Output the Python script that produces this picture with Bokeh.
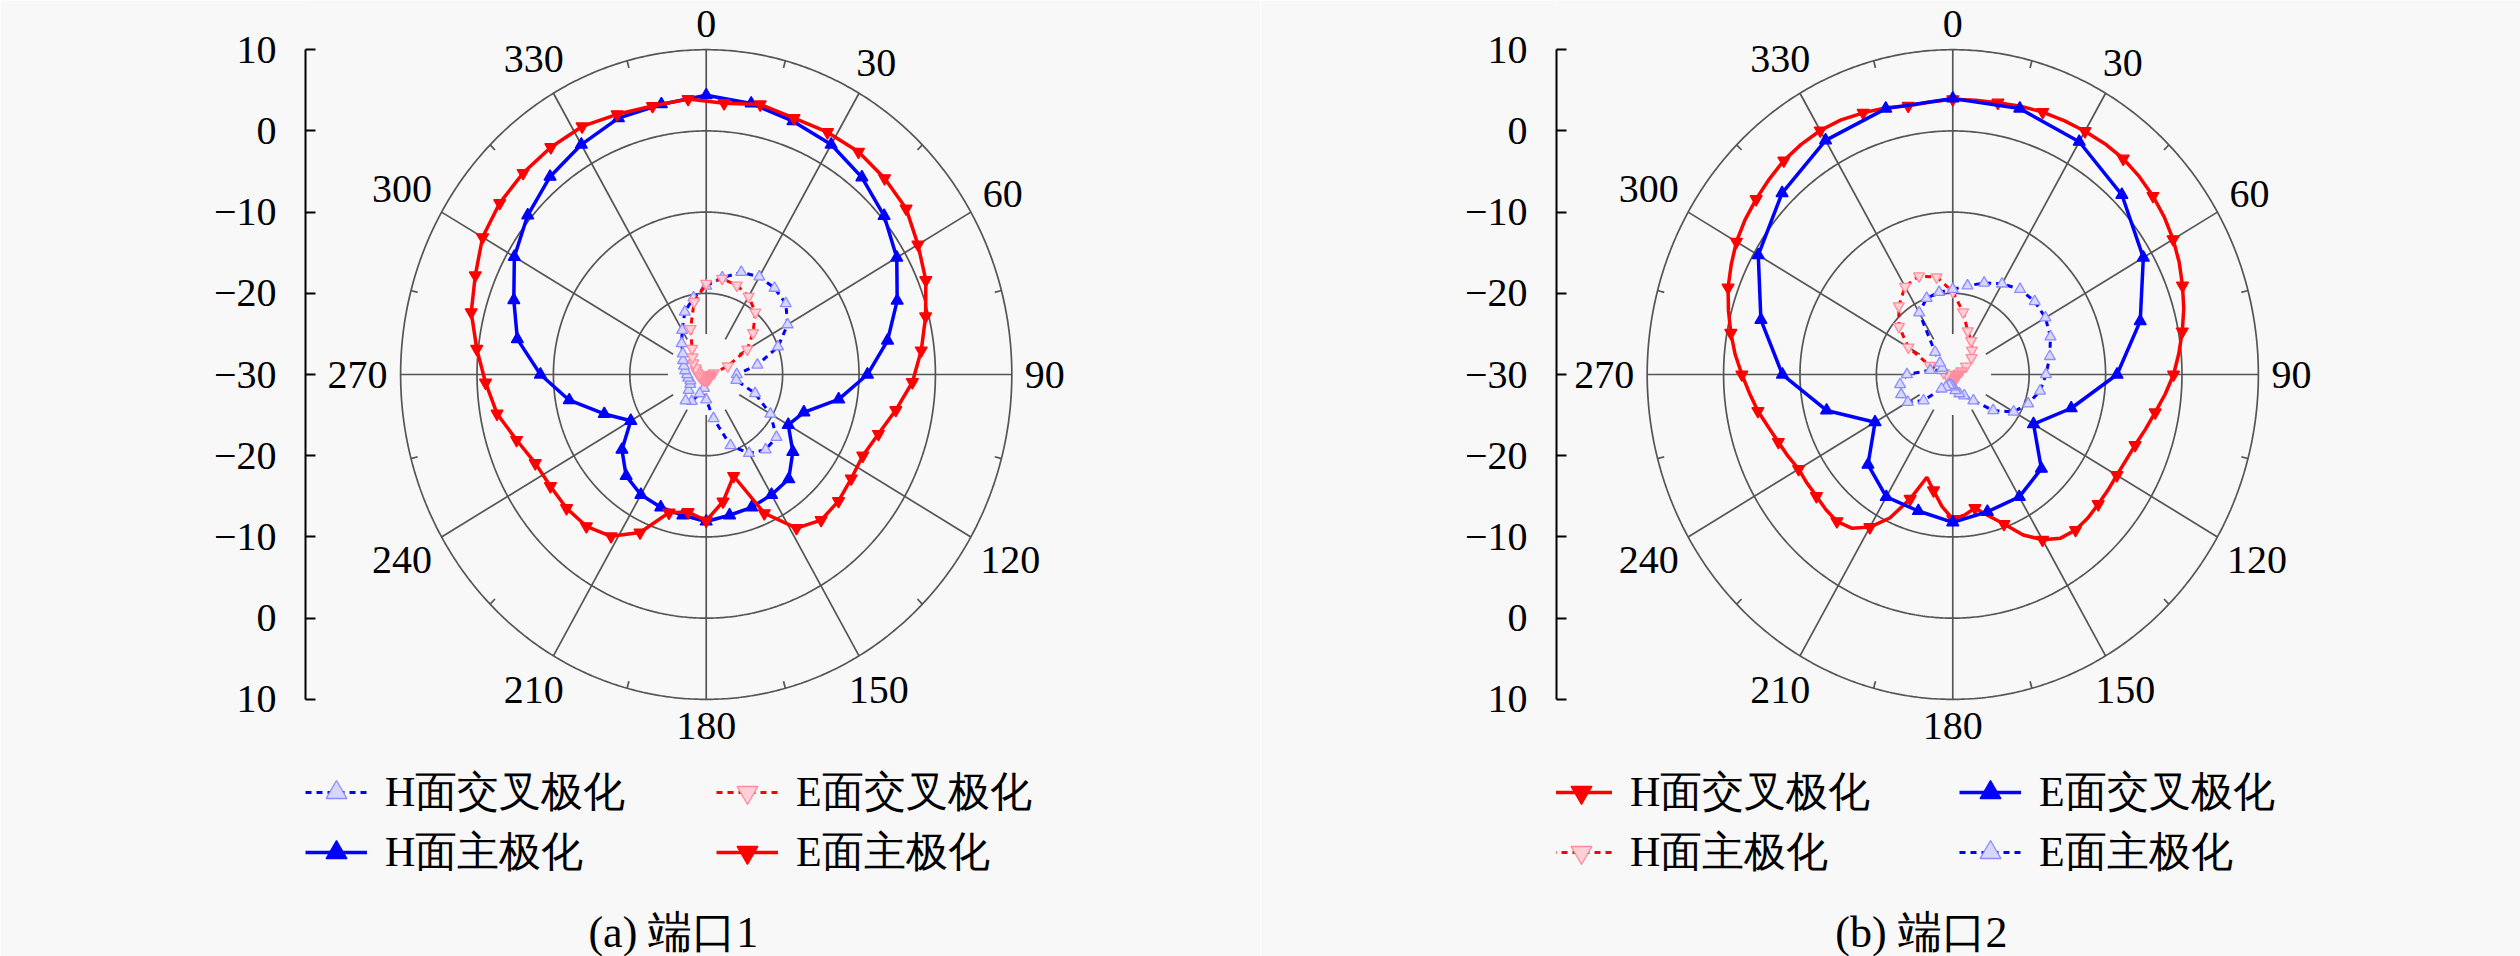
import numpy as np
from bokeh.plotting import figure
from bokeh.layouts import row
from bokeh.models import FixedTicker, Range1d, Legend, LegendItem, Label
from bokeh.embed import file_html
from bokeh.resources import INLINE
from bokeh.core.properties import value

# ---------------- data (dB vs angle in degrees, clockwise from top) ----------------
ANGLE_LABELS = ["0", "30", "60", "90", "120", "150", "180", "210", "240", "270", "300", "330"]
ANGLE_TICKS = [0, 30, 60, 90, 120, 150, 180, 210, 240, 270, 300, 330]
Y_TICKS = [-40, -30, -20, -10, 0, 10, 20, 30, 40]
Y_TICK_LABELS = ["10", "0", "\u221210", "\u221220", "\u221230", "\u221220", "\u221210", "0", "10"]
RING_DB = [-20, -10, 0, 10]

# Panel (a) 端口1
A_HX_THETA = list(range(0, 360, 10))      # H面交叉极化
A_HX_DB = [-19.1, -17.9, -16.6, -16.1, -16.1, -16.4, -17.7, -20.0, -23.2, -26.0,
           -26.0, -23.2, -20.3, -18.0, -17.9, -18.8, -20.7, -24.5, -26.9, -28.3,
           -27.5, -26.2, -25.8, -27.0, -27.6, -27.8, -27.6, -27.5, -27.2, -26.9,
           -26.5, -26.0, -25.0, -23.7, -21.8, -20.4]
A_EX_THETA = list(range(0, 360, 10))      # E面交叉极化
A_EX_DB = [-18.8, -18.0, -18.3, -18.9, -20.0, -22.0, -23.8, -27.0, -29.0, -29.4,
           -29.5, -29.5, -29.5, -29.4, -29.4, -29.4, -29.3, -29.3, -29.3, -29.3,
           -29.3, -29.3, -29.3, -29.3, -29.2, -29.2, -29.1, -29.0, -28.8, -28.6,
           -28.4, -27.8, -27.2, -26.3, -24.0, -20.9]
A_HM_THETA = list(range(0, 360, 10))      # H面主极化
A_HM_DB = [4.4, 3.9, 3.2, 2.7, 1.7, 0.4, -1.2, -3.4, -5.9, -8.9,
           -12.4, -16.4, -17.6, -15.2, -13.2, -12.9, -12.6, -12.4, -11.9, -12.4,
           -12.6, -12.9, -13.7, -15.6, -18.6, -15.8, -11.8, -8.3, -4.9, -3.2,
           -1.0, 0.5, 1.8, 2.7, 3.6, 3.8]
A_EM_THETA = list(range(4, 360, 8))       # E面主极化
A_EM_DB = [3.5, 4.0, 3.6, 3.8, 3.9, 3.6, 3.2, 2.0, 1.0, -0.4,
           -1.7, -3.0, -4.8, -6.3, -7.2, -7.1, -6.7, -6.6, -7.7, -11.3,
           -17.0, -14.2, -12.0, -12.9, -12.3, -8.7, -6.5, -5.6, -5.4, -5.4,
           -5.1, -3.9, -2.2, -1.1, 0.2, 1.7, 2.6, 3.8, 4.3, 4.5,
           4.6, 4.6, 4.1, 3.8, 4.0]

# Panel (b) 端口2
B_HX_THETA = list(range(0, 360, 5))       # H面交叉极化 (red solid)
B_HX_DB = [3.9, 3.9, 4.0, 4.2, 4.4, 4.5, 4.6, 4.7, 4.7, 4.5,
           4.2, 3.8, 3.3, 2.7, 2.0, 1.3, 0.5, -0.3, -1.1, -2.1,
           -3.1, -3.9, -4.6, -5.0, -5.2, -5.2, -5.15, -5.0, -5.0, -5.4,
           -6.5, -8.2, -10.4, -12.0, -13.3, -12.6, -12.2, -13.7, -15.5, -16.9,
           -13.7, -10.5, -8.3, -6.9, -6.4, -6.5, -6.7, -6.7, -6.7, -6.2,
           -5.7, -5.0, -4.1, -3.3, -2.4, -1.4, -0.5, 0.4, 1.3, 2.0,
           2.7, 3.2, 3.6, 4.0, 4.4, 4.6, 4.7, 4.6, 4.3, 4.0,
           3.6, 3.7]
B_EX_THETA = list(range(0, 360, 15))      # E面交叉极化 (blue solid)
B_EX_DB = [4.0, 3.9, 3.1, 1.3, -1.2, -4.6, -8.5, -13.95, -17.8, -13.6,
           -12.6, -12.5, -11.8, -12.6, -12.6, -14.3, -18.25, -12.9, -7.7, -4.0,
           -0.6, 1.6, 3.3, 3.9]
B_HM_THETA = list(range(0, 360, 10))      # H面主极化 (red dotted)
B_HM_DB = [-19.8, -22.2, -24.3, -25.2, -26.1, -26.8, -28.0, -28.8, -29.2, -29.4,
           -29.4, -29.4, -29.4, -29.4, -29.4, -29.4, -29.4, -29.4, -29.4, -29.4,
           -29.4, -29.4, -29.4, -29.4, -29.4, -29.4, -29.3, -29.2, -28.8, -26.8,
           -23.3, -20.8, -19.0, -17.5, -17.1, -17.8]
B_EM_THETA = list(range(0, 360, 10))      # E面主极化 (blue dotted)
B_EM_DB = [-19.5, -18.9, -18.0, -17.1, -16.3, -16.0, -16.0, -16.4, -17.1, -17.8,
           -18.4, -19.5, -20.8, -23.1, -25.8, -27.0, -27.5, -28.0, -28.5, -28.7,
           -28.6, -28.2, -27.7, -25.0, -23.2, -22.8, -23.0, -24.0, -27.0, -28.5,
           -28.4, -27.8, -26.4, -21.2, -20.0, -19.7]

# ---------------- style ----------------
DB_MIN = -30.0           # centre of the polar plot
BG = "#f8f8f8"
GRID = "#555555"
SERIF = "Liberation Serif"
RED, BLUE = "#ff0000", "#0000ff"
FIG_W, FIG_H = 1260, 956
Y_LO, Y_HI = -71.67, 46.06
LABEL_PX = 40


def to_xy(theta, db):
    th = np.radians(np.asarray(theta, dtype=float))
    r = np.clip(np.asarray(db, dtype=float) - DB_MIN, 0, None)
    return r * np.sin(th), r * np.cos(th)


def make_panel(x_lo, x_hi, border_left, series, caption, cap_x, legend_cols):
    p = figure(width=FIG_W, height=FIG_H, x_range=Range1d(x_lo, x_hi), y_range=Range1d(Y_LO, Y_HI),
               x_axis_location=None, toolbar_location=None, output_backend="svg",
               min_border_left=border_left, min_border_right=0, min_border_top=0, min_border_bottom=0,
               background_fill_color=BG, border_fill_color=BG, outline_line_color=None)
    sx = (FIG_W - border_left) / (x_hi - x_lo)   # px per unit
    sy = FIG_H / (Y_HI - Y_LO)
    p.grid.visible = False
    ax = p.yaxis[0]
    ax.ticker = FixedTicker(ticks=Y_TICKS)
    ax.major_label_overrides = {t: s for t, s in zip(Y_TICKS, Y_TICK_LABELS)}
    ax.bounds = (-40, 40)
    ax.minor_tick_line_color = None
    ax.major_tick_in = 10
    ax.major_tick_out = 0
    ax.axis_line_width = 2
    ax.major_tick_line_width = 2
    ax.major_label_standoff = 29
    ax.major_label_text_font = SERIF
    ax.major_label_text_font_size = f"{LABEL_PX}px"
    ax.major_label_text_color = "black"

    # polar grid: rings, spokes, small ticks
    phi = np.linspace(0, 360, 721)
    rx, ry = [], []
    for d in RING_DB:
        x, y = to_xy(phi, np.full_like(phi, d))
        rx.append(x); ry.append(y)
    p.multi_line(rx, ry, line_color=GRID, line_width=1.7)
    gx, gy = [], []
    rmax = RING_DB[-1] - DB_MIN
    for a in ANGLE_TICKS:
        x, y = to_xy([a, a], [DB_MIN + 5, RING_DB[-1]])
        gx.append(x); gy.append(y)
    for a in ANGLE_TICKS:
        x, y = to_xy([a + 15, a + 15], [RING_DB[-1] - 0.9, RING_DB[-1]])
        gx.append(x); gy.append(y)
    p.multi_line(gx, gy, line_color=GRID, line_width=1.7)

    # angle labels just outside the outer ring (offset in pixels, depends on text size)
    th = np.radians(ANGLE_TICKS)
    w = np.array([0.5 * LABEL_PX * len(t) for t in ANGLE_LABELS])
    h = 0.66 * LABEL_PX
    off = 13 + 0.5 * (w * np.abs(np.sin(th)) + h * np.abs(np.cos(th)))
    lx = rmax * np.sin(th) + off * np.sin(th) / sx
    ly = rmax * np.cos(th) + off * np.cos(th) / sy
    p.text(lx, ly, text=ANGLE_LABELS, text_align="center", text_baseline="middle",
           text_font=value(SERIF), text_font_size=f"{LABEL_PX}px", text_color="black")

    rends = {}
    for key, s in series.items():
        t, db = s["theta"], s["db"]
        x, y = to_xy(list(t) + [t[0] + 360], list(db) + [db[0]])
        ln = p.line(x, y, line_color=s["color"], line_width=s["lw"], line_dash=s["dash"])
        step = s["mstep"]
        mx, my = to_xy(t[::step], db[::step])
        sc = p.scatter(mx, my, marker=s["marker"], size=s["msize"], fill_color=s["mfill"],
                       line_color=s["mline"], line_width=1.3)
        rends[key] = [ln, sc]

    for (xloc, keys) in legend_cols:
        items = [LegendItem(label=series[k]["label"], renderers=rends[k]) for k in keys]
        leg = Legend(items=items, location=(xloc, 76), orientation="vertical",
                     glyph_width=62, glyph_height=52, label_height=52, spacing=4,
                     padding=0, margin=0, label_standoff=18,
                     border_line_color=None, background_fill_alpha=0,
                     label_text_font=SERIF, label_text_font_size="42px", label_text_color="black")
        p.add_layout(leg)

    p.add_layout(Label(x=cap_x, y=-68.7, text=caption, text_align="center", text_baseline="middle",
                       text_font=SERIF, text_font_size="44px", text_color="black"))
    return p


def S(theta, db, label, color, dash, marker, mfill, mline, mstep=1, lw=3.5, msize=12):
    return dict(theta=theta, db=db, label=label, color=color, dash=dash, marker=marker,
                mfill=mfill, mline=mline, mstep=mstep, lw=lw, msize=msize)


LAV_F, LAV_L = "#d6d6ff", "#8c8cff"
PNK_F, PNK_L = "#ffd0d8", "#ff8c9c"

series_a = {
    "hx": S(A_HX_THETA, A_HX_DB, "H面交叉极化", BLUE, "6 5", "triangle", LAV_F, LAV_L, lw=3, msize=11),
    "ex": S(A_EX_THETA, A_EX_DB, "E面交叉极化", RED, "6 5", "inverted_triangle", PNK_F, PNK_L, lw=3, msize=11),
    "hm": S(A_HM_THETA, A_HM_DB, "H面主极化", BLUE, "solid", "triangle", BLUE, BLUE),
    "em": S(A_EM_THETA, A_EM_DB, "E面主极化", RED, "solid", "inverted_triangle", RED, RED),
}
series_b = {
    "hx": S(B_HX_THETA, B_HX_DB, "H面交叉极化", RED, "solid", "inverted_triangle", RED, RED, mstep=2),
    "ex": S(B_EX_THETA, B_EX_DB, "E面交叉极化", BLUE, "solid", "triangle", BLUE, BLUE),
    "hm": S(B_HM_THETA, B_HM_DB, "H面主极化", RED, "6 5", "inverted_triangle", PNK_F, PNK_L, lw=3, msize=11),
    "em": S(B_EM_THETA, B_EM_DB, "E面主极化", BLUE, "6 5", "triangle", LAV_F, LAV_L, lw=3, msize=11),
}

p1 = make_panel(-52.45, 72.55, 305, series_a, "(a) 端口1", -4.3,
                [(0, ["hx", "hm"]), (411, ["ex", "em"])])
p2 = make_panel(-51.87, 74.31, 296, series_b, "(b) 端口2", -4.1,
                [(-6, ["hx", "hm"]), (403, ["ex", "em"])])

layout = row(p1, p2)
open("out.html", "w").write(file_html(layout, INLINE))
